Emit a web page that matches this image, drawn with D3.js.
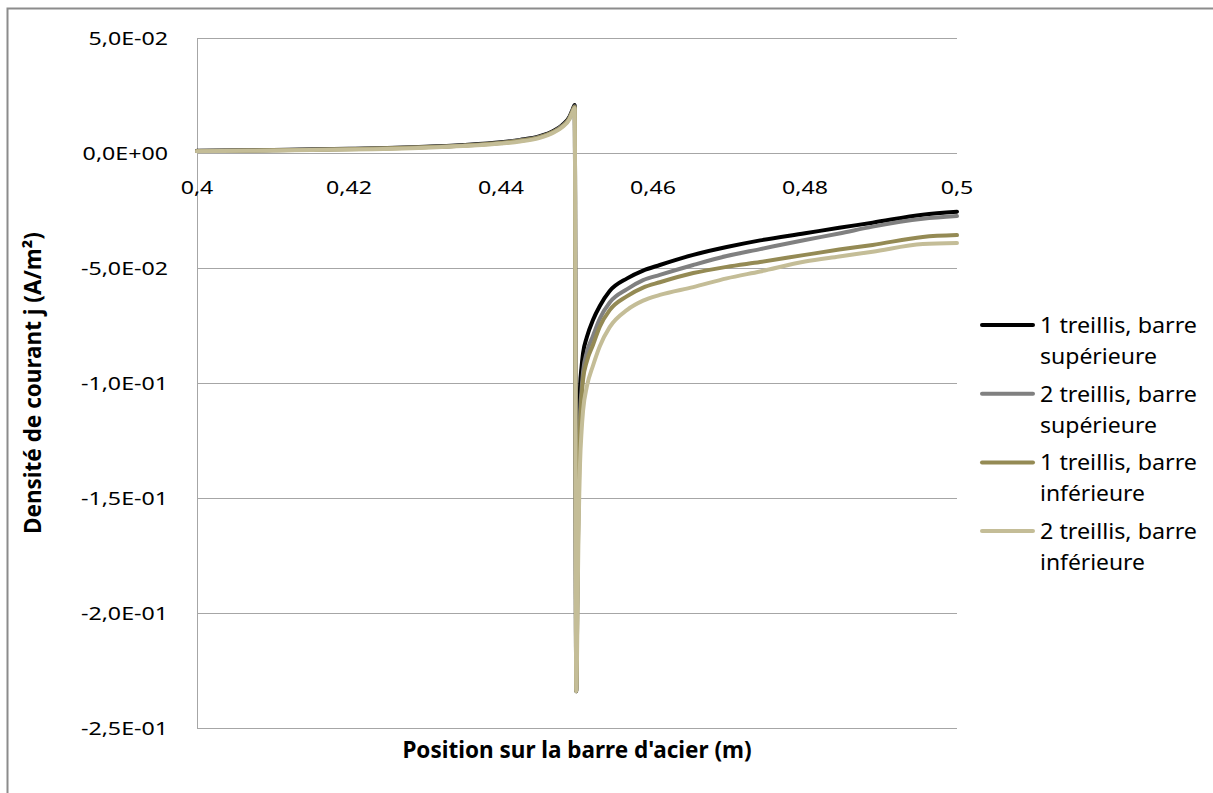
<!DOCTYPE html>
<html><head><meta charset="utf-8">
<script src="https://cdn.jsdelivr.net/npm/d3@7"></script>
<style>
html,body{margin:0;padding:0;background:#fff;}
svg{display:block;font-family:"Noto Sans","Open Sans",sans-serif;}
</style></head><body>
<svg id="c" width="1213" height="793"></svg>
<script>
// ---- data ----
const positions = [0.4, 0.41, 0.42, 0.43, 0.435, 0.44, 0.4425, 0.445, 0.447, 0.448, 0.449, 0.4494, 0.4497, 0.4499,
  0.4500, 0.4501, 0.4502, 0.4503, 0.4504, 0.4506, 0.4508, 0.4513, 0.4521, 0.453, 0.4543, 0.4566, 0.4587, 0.4609,
  0.4653, 0.4697, 0.4741, 0.48, 0.4845, 0.4889, 0.4955, 0.5];

const seriesNames = ["1 treillis, barre supérieure", "2 treillis, barre supérieure",
                     "1 treillis, barre inférieure", "2 treillis, barre inférieure"];

const valuesS1 = [0.0010, 0.0013, 0.0018, 0.0027, 0.0035, 0.0047, 0.0057, 0.0072, 0.0098, 0.0120, 0.0157, 0.0187, 0.0209, -0.234,
  -0.200, -0.165, -0.140, -0.120, -0.102, -0.093, -0.087, -0.080, -0.0726, -0.0665, -0.0600, -0.0545, -0.0511, -0.0487,
  -0.0443, -0.0409, -0.0380, -0.0349, -0.0325, -0.0303, -0.0268, -0.0255];
const valuesS2 = [0.0009, 0.0012, 0.0017, 0.0026, 0.0033, 0.0045, 0.0055, 0.0070, 0.0095, 0.0117, 0.0153, 0.0183, 0.0203, -0.234,
  -0.210, -0.175, -0.150, -0.130, -0.115, -0.103, -0.095, -0.0865, -0.0795, -0.0720, -0.0650, -0.0592, -0.0553, -0.0530,
  -0.0487, -0.0448, -0.0418, -0.0378, -0.0350, -0.0320, -0.0286, -0.0274];
const valuesS3 = [0.0009, 0.0012, 0.0016, 0.0025, 0.0032, 0.0043, 0.0053, 0.0068, 0.0093, 0.0114, 0.0150, 0.0180, 0.0200, -0.234,
  -0.210, -0.178, -0.155, -0.135, -0.120, -0.107, -0.0985, -0.0905, -0.0835, -0.0755, -0.0683, -0.0622, -0.0585, -0.0562,
  -0.0522, -0.0495, -0.0474, -0.0443, -0.0420, -0.0400, -0.0365, -0.0357];
const valuesS4 = [0.0008, 0.0011, 0.0015, 0.0023, 0.0030, 0.0041, 0.0050, 0.0065, 0.0090, 0.0111, 0.0146, 0.0176, 0.0196, -0.234,
  -0.220, -0.190, -0.165, -0.148, -0.135, -0.121, -0.112, -0.1015, -0.0925, -0.0840, -0.0757, -0.0682, -0.0642, -0.0617,
  -0.0583, -0.0545, -0.0515, -0.0472, -0.0450, -0.0429, -0.0396, -0.0391];

const xTicks = [0.4, 0.42, 0.44, 0.46, 0.48, 0.5];
const xTickLabels = ["0,4", "0,42", "0,44", "0,46", "0,48", "0,5"];
const yTicks = [0.05, 0, -0.05, -0.1, -0.15, -0.2, -0.25];
const yTickLabels = ["5,0E-02", "0,0E+00", "-5,0E-02", "-1,0E-01", "-1,5E-01", "-2,0E-01", "-2,5E-01"];
const colors = ["#000000", "#808080", "#948A54", "#C4BD97"];

// ---- chart ----
const svg = d3.select("#c");
const L = 197, R = 957, T = 38, B = 728;
const FS = 19, SX = 1.22;        // tick labels
const LFS = 22;                  // legend
const x = d3.scaleLinear().domain([0.4, 0.5]).range([L, R]);
const y = d3.scaleLinear().domain([0.05, -0.25]).range([T, B]);

// outer chart border
svg.append("rect").attr("x", 7.5).attr("y", 8.5).attr("width", 1240).attr("height", 820)
  .attr("fill", "none").attr("stroke", "#8c8c8c").attr("stroke-width", 2);

// gridlines
svg.append("g").selectAll("line").data(yTicks).join("line")
  .attr("x1", L).attr("x2", R)
  .attr("y1", d => Math.round(y(d)) + 0.5).attr("y2", d => Math.round(y(d)) + 0.5)
  .attr("stroke", "#a6a6a6").attr("stroke-width", 1);

// y axis line
svg.append("line").attr("x1", L + 0.5).attr("x2", L + 0.5).attr("y1", T).attr("y2", B + 1)
  .attr("stroke", "#a6a6a6").attr("stroke-width", 1);

// y tick labels
svg.append("g").selectAll("text").data(yTicks).join("text")
  .attr("transform", d => `translate(168,${y(d) + 7}) scale(${SX},1)`)
  .attr("text-anchor", "end").attr("font-size", FS).attr("fill", "#000")
  .text((d, i) => yTickLabels[i]);

// x tick labels (below zero axis)
svg.append("g").selectAll("text").data(xTicks).join("text")
  .attr("transform", d => `translate(${x(d)},${y(0) + 41}) scale(${SX},1)`)
  .attr("text-anchor", "middle").attr("font-size", FS).attr("fill", "#000")
  .text((d, i) => xTickLabels[i]);

// series
const allValues = [valuesS1, valuesS2, valuesS3, valuesS4];
const line = d3.line().x(d => x(d[0])).y(d => y(d[1])).curve(d3.curveMonotoneX);
allValues.forEach((vals, i) => {
  const pts = positions.map((p, k) => [p, vals[k]]);
  svg.append("path").datum(pts).attr("d", line)
    .attr("fill", "none").attr("stroke", colors[i]).attr("stroke-width", 4)
    .attr("stroke-linejoin", "round").attr("stroke-linecap", "round");
});

// axis titles
svg.append("text").attr("transform", `translate(41,${(T + B) / 2}) rotate(-90)`)
  .attr("text-anchor", "middle").attr("font-size", 22.5).attr("font-weight", "bold").attr("fill", "#000")
  .text("Densité de courant j (A/m²)");
svg.append("text").attr("x", 577).attr("y", 758)
  .attr("text-anchor", "middle").attr("font-size", 22.5).attr("font-weight", "bold").attr("fill", "#000")
  .text("Position sur la barre d'acier (m)");

// legend (two lines per entry, stretched to the reference's text widths)
const lg = svg.append("g");
seriesNames.forEach((name, i) => {
  const cy = 325 + i * 68.7;
  lg.append("line").attr("x1", 982).attr("x2", 1033).attr("y1", cy).attr("y2", cy)
    .attr("stroke", colors[i]).attr("stroke-width", 4).attr("stroke-linecap", "round");
  const parts = name.split(", barre ");
  const lines = [parts[0] + ", barre", parts[1]];
  lines.forEach((txt, j) => {
    const t = lg.append("text").attr("x", 1040).attr("y", cy + 8 + j * 31)
      .attr("font-size", LFS).attr("fill", "#000").text(txt);
    const w = t.node().getComputedTextLength();
    const target = j === 0 ? 157 : (txt.startsWith("sup") ? 117 : 105);
    t.attr("textLength", target).attr("lengthAdjust", "spacingAndGlyphs");
  });
});
</script>
</body></html>
